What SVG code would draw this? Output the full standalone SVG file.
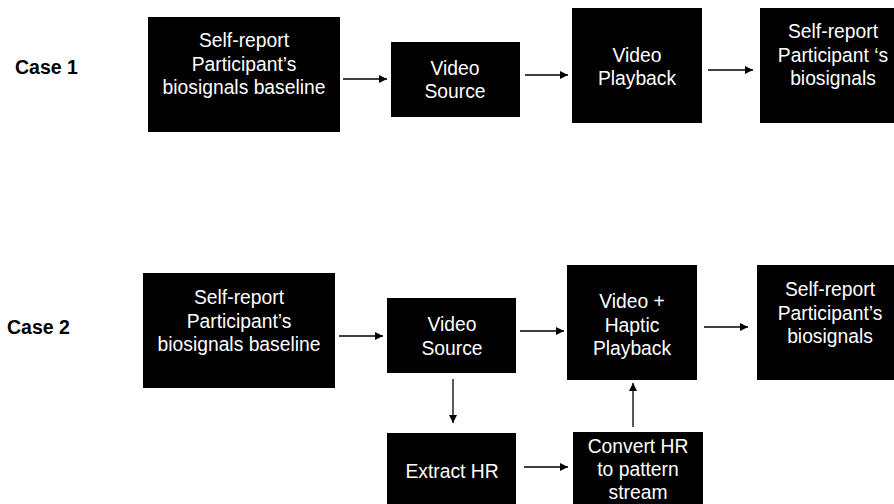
<svg xmlns="http://www.w3.org/2000/svg" width="894" height="504" viewBox="0 0 894 504">
  <defs>
    <marker id="arrow" viewBox="0 0 10 10" refX="10" refY="5" markerWidth="9" markerHeight="8" markerUnits="userSpaceOnUse" orient="auto">
      <path d="M0,0 L10,5 L0,10 Z" fill="#000"/>
    </marker>
  </defs>
  <style>
    .box { fill: #000; }
    .t { font-family: "Liberation Sans", Arial, sans-serif; font-size: 19.3px; fill: #fff; text-anchor: middle; }
    .case { font-family: "Liberation Sans", Arial, sans-serif; font-size: 19.5px; font-weight: bold; fill: #000; }
    .edge { stroke: #000; stroke-width: 1.3; fill: none; marker-end: url(#arrow); }
  </style>
  <rect width="894" height="504" fill="#fff"/>

  <text class="case" x="15" y="74">Case 1</text>
  <text class="case" x="7" y="334">Case 2</text>

  <!-- Case 1 -->
  <g id="c1-baseline">
    <rect class="box" x="148" y="17" width="192" height="115"/>
    <text class="t" x="244" y="47">Self-report</text>
    <text class="t" x="244" y="70.5">Participant’s</text>
    <text class="t" x="244" y="94">biosignals baseline</text>
  </g>
  <g id="c1-source">
    <rect class="box" x="391" y="42" width="129" height="75"/>
    <text class="t" x="455" y="75">Video</text>
    <text class="t" x="455" y="98">Source</text>
  </g>
  <g id="c1-playback">
    <rect class="box" x="572" y="8" width="130" height="115"/>
    <text class="t" x="637" y="62">Video</text>
    <text class="t" x="637" y="85">Playback</text>
  </g>
  <g id="c1-report">
    <rect class="box" x="760" y="8" width="146" height="115"/>
    <text class="t" x="833" y="38">Self-report</text>
    <text class="t" x="833" y="61.5">Participant ‘s</text>
    <text class="t" x="833" y="85">biosignals</text>
  </g>

  <!-- Case 2 -->
  <g id="c2-baseline">
    <rect class="box" x="143" y="273" width="192" height="115"/>
    <text class="t" x="239" y="304">Self-report</text>
    <text class="t" x="239" y="327.5">Participant’s</text>
    <text class="t" x="239" y="351">biosignals baseline</text>
  </g>
  <g id="c2-source">
    <rect class="box" x="387" y="298" width="129" height="75"/>
    <text class="t" x="452" y="331">Video</text>
    <text class="t" x="452" y="354.5">Source</text>
  </g>
  <g id="c2-playback">
    <rect class="box" x="567" y="265" width="130" height="115"/>
    <text class="t" x="632" y="308">Video +</text>
    <text class="t" x="632" y="331.5">Haptic</text>
    <text class="t" x="632" y="355">Playback</text>
  </g>
  <g id="c2-report">
    <rect class="box" x="757" y="265" width="150" height="115"/>
    <text class="t" x="830" y="296">Self-report</text>
    <text class="t" x="830" y="319.5">Participant’s</text>
    <text class="t" x="830" y="343">biosignals</text>
  </g>
  <g id="c2-extract">
    <rect class="box" x="387" y="433" width="129" height="80"/>
    <text class="t" x="452" y="478">Extract HR</text>
  </g>
  <g id="c2-convert">
    <rect class="box" x="573" y="432" width="130" height="80"/>
    <text class="t" x="638" y="453">Convert HR</text>
    <text class="t" x="638" y="476">to pattern</text>
    <text class="t" x="638" y="499">stream</text>
  </g>

  <g id="connectors">
    <line class="edge" x1="343" y1="79" x2="387" y2="79"/>
    <line class="edge" x1="525" y1="75" x2="568" y2="75"/>
    <line class="edge" x1="708" y1="70" x2="753" y2="70"/>

    <line class="edge" x1="339" y1="336" x2="383" y2="336"/>
    <line class="edge" x1="520" y1="331" x2="564" y2="331"/>
    <line class="edge" x1="704" y1="327" x2="748" y2="327"/>
    <line class="edge" x1="453" y1="379" x2="453" y2="423"/>
    <line class="edge" x1="524" y1="467" x2="568" y2="467"/>
    <line class="edge" x1="633" y1="427" x2="633" y2="383"/>
  </g>
</svg>
